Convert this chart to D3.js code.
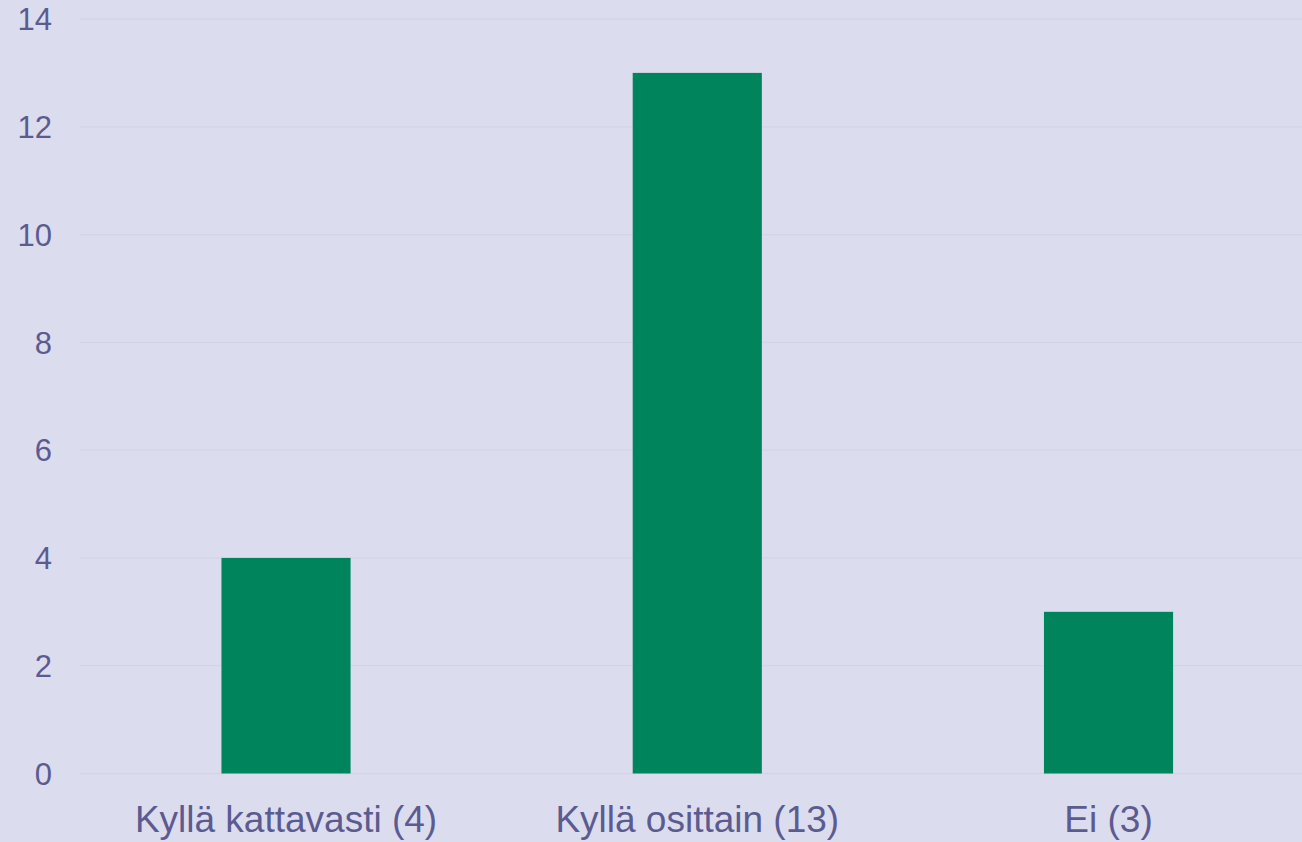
<!DOCTYPE html>
<html>
<head>
<meta charset="utf-8">
<script src="https://cdn.jsdelivr.net/npm/d3@7"></script>
<style>
  html, body { margin: 0; padding: 0; background: #dcdcef; }
  svg { display: block; }
</style>
</head>
<body>
<div id="chart"></div>
<script>
var categories = ['Kyllä kattavasti (4)', 'Kyllä osittain (13)', 'Ei (3)'];
var values = [4, 13, 3];
var yTicks = [0, 2, 4, 6, 8, 10, 12, 14];

var width = 1302, height = 842;
var plotTop = 19, plotBottom = 773.5, plotLeft = 80.4;

var svg = d3.select('#chart')
            .append('svg')
              .attr('width', width)
              .attr('height', height);

svg.append('rect')
    .attr('width', width)
    .attr('height', height)
    .attr('fill', '#dcdcef');

var fy = d3.scaleLinear()
           .domain([0, 14])
           .range([plotBottom, plotTop]);

var fx = d3.scaleBand()
           .domain(categories)
           .range([plotLeft, plotLeft + 3 * 411.25])
           .paddingInner(0.686)
           .paddingOuter(0.343);

// grid
svg.selectAll('line.grid')
    .data(yTicks).enter()
    .append('line')
      .attr('class', 'grid')
      .attr('x1', 80)
      .attr('x2', width)
      .attr('y1', function(d) { return fy(d); })
      .attr('y2', function(d) { return fy(d); })
      .attr('stroke', '#d4d4e4')
      .attr('stroke-width', 1.3);

// y labels
svg.selectAll('text.ytick')
    .data(yTicks).enter()
    .append('text')
      .attr('class', 'ytick')
      .attr('x', 52)
      .attr('y', function(d) { return fy(d); })
      .attr('dy', '.36em')
      .style('text-anchor', 'end')
      .style('font-family', 'Liberation Sans, Arial, sans-serif')
      .style('font-size', '31px')
      .attr('fill', '#5b5b8f')
      .text(function(d) { return d; });

// bars
svg.selectAll('rect.bar')
    .data(values).enter()
    .append('rect')
      .attr('class', 'bar')
      .attr('x', function(d, i) { return fx(categories[i]); })
      .attr('y', function(d) { return fy(d); })
      .attr('width', fx.bandwidth())
      .attr('height', function(d) { return fy(0) - fy(d); })
      .attr('fill', '#00845c');

// x labels
svg.selectAll('text.xtick')
    .data(categories).enter()
    .append('text')
      .attr('class', 'xtick')
      .attr('x', function(d) { return fx(d) + fx.bandwidth() / 2; })
      .attr('y', 832)
      .style('text-anchor', 'middle')
      .style('font-family', 'Liberation Sans, Arial, sans-serif')
      .style('font-size', '37px')
      .attr('fill', '#5b5b8f')
      .text(function(d) { return d; });
</script>
</body>
</html>
